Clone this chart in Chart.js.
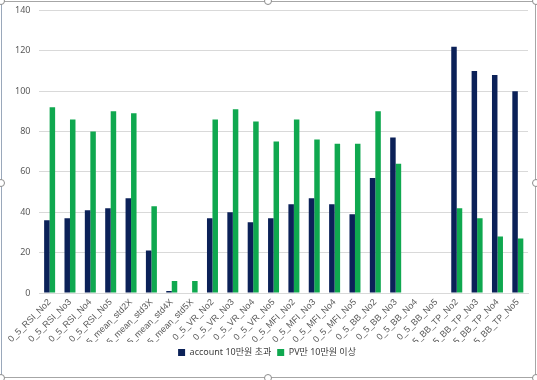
<!DOCTYPE html>
<html><head><meta charset="utf-8">
<script src="https://cdn.jsdelivr.net/npm/chart.js@4"></script>
<style>
html,body{margin:0;padding:0;background:#fff;overflow:hidden;}
#wrap{position:absolute;left:0;top:0;width:537px;height:380px;overflow:hidden;}
#frame{position:absolute;left:1px;top:1px;width:535px;height:377px;border:1px solid #a6a6a6;border-left-color:#9aa8bb;box-sizing:border-box;}
.h{position:absolute;width:8px;height:8px;border:1px solid #8c8c8c;border-radius:50%;background:#fff;box-sizing:border-box;}
canvas{position:absolute;left:0;top:-4px;}
</style></head>
<body><div id="wrap"><canvas id="c" width="537" height="380"></canvas><div id="frame"></div>
<div class="h" style="left:264px;top:-3px"></div>
<div class="h" style="left:-3px;top:179px"></div>
<div class="h" style="left:532px;top:179px"></div>
<div class="h" style="left:264px;top:374px"></div>
<div class="h" style="left:-3px;top:-3px"></div>
<div class="h" style="left:532px;top:-3px"></div>
<div class="h" style="left:-3px;top:374px"></div>
<div class="h" style="left:532px;top:374px"></div>
</div>
<script>
const categories = ["0_5_RSI_No2","0_5_RSI_No3","0_5_RSI_No4","0_5_RSI_No5","0_5_mean_std2X","0_5_mean_std3X","0_5_mean_std4X","0_5_mean_std5X","0_5_VR_No2","0_5_VR_No3","0_5_VR_No4","0_5_VR_No5","0_5_MFI_No2","0_5_MFI_No3","0_5_MFI_No4","0_5_MFI_No5","0_5_BB_No2","0_5_BB_No3","0_5_BB_No4","0_5_BB_No5","0_5_BB_TP_No2","0_5_BB_TP_No3","0_5_BB_TP_No4","0_5_BB_TP_No5"];
const accountValues = [36,37,41,42,47,21,1,0,37,40,35,37,44,47,44,39,57,77,0,0,122,110,108,100];
const pvValues = [92,86,80,90,89,43,6,6,86,91,85,75,86,76,74,74,90,64,0,0,42,37,28,27];
const seriesNames = ["account 10만원 초과","PV만 10만원 이상"];
const yTicks = [0,20,40,60,80,100,120,140];

const font = "'Noto Sans','Noto Sans CJK KR',sans-serif";
const labelFont = "'Liberation Sans','Noto Sans',sans-serif";
new Chart(document.getElementById('c'), {
  type: 'bar',
  data: {
    labels: categories,
    datasets: [
      {label: seriesNames[0], data: accountValues, backgroundColor: '#0b2158', categoryPercentage: 0.54, barPercentage: 1.0},
      {label: seriesNames[1], data: pvValues, backgroundColor: '#0fa84f', categoryPercentage: 0.54, barPercentage: 1.0}
    ]
  },
  options: {
    responsive: false,
    animation: false,
    layout: {padding: {left: 6, right: 9, top: 0, bottom: 9}},
    plugins: {
      legend: {
        position: 'bottom',
        labels: {boxWidth: 7, boxHeight: 7, color: '#404040', font: {family: font, size: 9}, padding: 6}
      },
      tooltip: {enabled: false}
    },
    scales: {
      x: {
        afterFit: (s) => { s.height = 49; },
        grid: {display: false, drawTicks: false},
        border: {color: '#d9d9d9'},
        ticks: {color: '#595959', font: {family: labelFont, size: 9}, maxRotation: 45, minRotation: 45, autoSkip: false, padding: 4}
      },
      y: {
        min: 0, max: 140,
        afterBuildTicks: (s) => { s.ticks = yTicks.map(v => ({value: v})); },
        grid: {color: '#d9d9d9', drawTicks: false},
        border: {display: false},
        ticks: {color: '#595959', font: {family: font, size: 9}, padding: 9}
      }
    }
  }
});
</script></body></html>
